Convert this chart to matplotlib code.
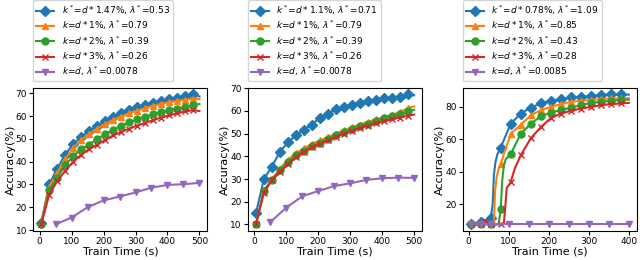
import numpy as np
import matplotlib
matplotlib.use("Agg")
import matplotlib.pyplot as plt

# ---- panel 1 ----
t1 = [5, 30, 55, 80, 105, 130, 155, 180, 205, 230, 255, 280, 305, 330, 355, 380, 405, 430, 455, 480, 500]
p1_blue = [13, 30, 37, 43, 47.8, 50.8, 53.5, 55.7, 57.8, 59.6, 61.3, 62.6, 63.8, 64.8, 65.8, 66.8, 67.3, 67.8, 68.6, 69.5, 68.6]
p1_orange = [13, 29, 35, 41, 46, 49.5, 52, 54.5, 56.5, 58.3, 59.8, 61.2, 62.4, 63.5, 64.5, 65.4, 66.0, 66.6, 67.2, 67.6, 67.5]
p1_green = [12.5, 27.5, 33, 38.5, 42.3, 45.5, 47.5, 50, 52, 54, 55.7, 57.2, 58.5, 59.7, 60.8, 61.8, 62.6, 63.2, 63.9, 64.9, 65.3]
p1_red = [12.5, 25.5, 31.5, 36, 40, 43, 45.5, 47.5, 49.5, 51.5, 53, 54.5, 55.8, 57, 58.2, 59.3, 60.3, 61.2, 62.0, 62.6, 62.2]
t1_purple = [50, 100, 150, 200, 250, 300, 350, 400, 450, 500]
p1_purple = [12.5, 15.5, 20, 23, 24.7, 26.5, 28.6, 29.8, 30.1, 30.7]

# ---- panel 2 ----
t2 = t1
p2_blue = [14.8, 30, 35.5, 41.9, 46.2, 49.2, 51.8, 54, 57, 58.8, 60.7, 61.7, 62.6, 63.6, 64.4, 64.8, 65.6, 65.6, 66.1, 67.3, 66.9]
p2_orange = [10, 25, 30, 34.5, 38.5, 41.5, 43.5, 45.5, 47, 48.5, 50, 51.5, 52.8, 54, 55.2, 56.3, 57.3, 58.3, 59.5, 61.2, 62.0]
p2_green = [10, 24.8, 29.5, 34, 37.5, 40.5, 42.5, 44.5, 46, 47.8, 49.3, 50.8, 52.0, 53.2, 54.4, 55.5, 56.8, 57.8, 58.5, 59.8, 60.5]
p2_red = [10, 24, 29.5, 33, 36.5, 39.5, 42, 44, 45.5, 47, 48.5, 50, 51.2, 52.4, 53.5, 54.5, 55.4, 56.3, 57.1, 57.8, 58.4]
t2_purple = [50, 100, 150, 200, 250, 300, 350, 400, 450, 500]
p2_purple = [11, 17.4, 22.4, 24.7, 26.9, 28.1, 29.6, 30.3, 30.6, 30.5]

# ---- panel 3 (extra points between markers follow the steep rise) ----
t3_blue = [5, 30, 55, 60, 63, 67, 72, 80, 105, 130, 155, 180, 205, 230, 255, 280, 305, 330, 355, 380, 400]
p3_blue = [7.7, 9, 11.6, 20, 38, 46, 51, 55, 69.6, 75.9, 79.6, 82.1, 83.8, 84.6, 85.9, 86.3, 86.7, 87.3, 87.7, 87.7, 87.5]
t3_orange = [5, 30, 55, 63, 66, 70, 75, 80, 105, 130, 155, 180, 205, 230, 255, 280, 305, 330, 355, 380, 400]
p3_orange = [7.7, 8.3, 8, 9, 28, 37, 42, 45, 63.4, 69, 74.8, 78, 80, 81.7, 83.1, 83.8, 84.2, 84.8, 85.2, 85.2, 85.3]
t3_green = [5, 30, 55, 75, 80, 84, 88, 93, 105, 130, 155, 180, 205, 230, 255, 280, 305, 330, 355, 380, 400]
p3_green = [7.7, 7.7, 7.7, 7.8, 17.1, 35, 44, 48, 50.9, 63.4, 69.6, 74.2, 76.5, 78, 79.6, 81, 82.5, 83.1, 83.8, 84.2, 84.5]
t3_red = [5, 30, 40, 55, 80, 88, 92, 95, 105, 115, 130, 155, 180, 205, 230, 255, 280, 305, 330, 355, 380, 400]
p3_red = [7.7, 7.7, 10.5, 7.7, 7.7, 8.5, 20, 30, 33.6, 42, 50.2, 60.6, 67.5, 73.1, 75.9, 77.5, 79, 80, 81, 81.7, 82.1, 82.5]
t3_purple = [5, 30, 55, 100, 150, 200, 250, 300, 350, 400]
p3_purple = [7.7, 7.7, 7.7, 7.7, 7.7, 7.7, 7.7, 7.7, 7.7, 7.7]

labels1 = [r'$k^*$=$d*$1.47%, $\lambda^*$=0.53', r'$k$=$d*$1%, $\lambda^*$=0.79',
           r'$k$=$d*$2%, $\lambda^*$=0.39', r'$k$=$d*$3%, $\lambda^*$=0.26',
           r'$k$=$d$, $\lambda^*$=0.0078']
labels2 = [r'$k^*$=$d*$1.1%, $\lambda^*$=0.71', r'$k$=$d*$1%, $\lambda^*$=0.79',
           r'$k$=$d*$2%, $\lambda^*$=0.39', r'$k$=$d*$3%, $\lambda^*$=0.26',
           r'$k$=$d$, $\lambda^*$=0.0078']
labels3 = [r'$k^*$=$d*$0.78%, $\lambda^*$=1.09', r'$k$=$d*$1%, $\lambda^*$=0.85',
           r'$k$=$d*$2%, $\lambda^*$=0.43', r'$k$=$d*$3%, $\lambda^*$=0.28',
           r'$k$=$d$, $\lambda^*$=0.0085']

colors = ['tab:blue', 'tab:orange', 'tab:green', 'tab:red', 'tab:purple']
markers = ['D', '^', 'o', 'x', 'v']

panels = [
    ([t1, t1, t1, t1, t1_purple], [p1_blue, p1_orange, p1_green, p1_red, p1_purple], labels1),
    ([t2, t2, t2, t2, t2_purple], [p2_blue, p2_orange, p2_green, p2_red, p2_purple], labels2),
    ([t3_blue, t3_orange, t3_green, t3_red, t3_purple],
     [p3_blue, p3_orange, p3_green, p3_red, p3_purple], labels3),
]

fig = plt.figure(figsize=(6.4, 2.6), dpi=100)
lefts = [0.052, 0.3875, 0.723]

for i, (xs, ys, labs) in enumerate(panels):
    ax = fig.add_axes([lefts[i], 0.112, 0.272, 0.55])
    for j in range(5):
        x = np.array(xs[j])
        # markers only on the regular 25 s grid (purple: every point)
        if j == 4:
            me = None
        else:
            me = [k for k, v in enumerate(x) if (v - 5) % 25 == 0]
        ax.plot(x, ys[j], color=colors[j], marker=markers[j], markevery=me,
                markersize=5, linewidth=1.5, label=labs[j])
    ax.set_xlabel('Train Time (s)', fontsize=8, labelpad=0)
    ax.set_ylabel('Accuracy(%)', fontsize=8, labelpad=0)
    ax.tick_params(labelsize=6.5, length=3, pad=1.5)
    ax.legend(loc='lower left', bbox_to_anchor=(0, 1.045), borderaxespad=0,
              fontsize=6.5, handlelength=2, labelspacing=0.22, borderpad=0.35)

fig.savefig('out.png', dpi=100)
